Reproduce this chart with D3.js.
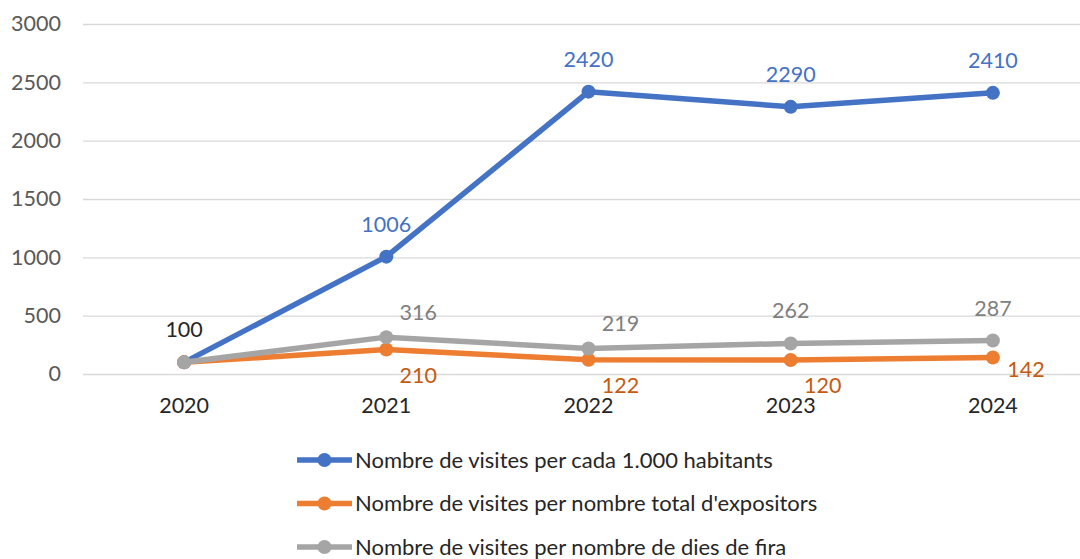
<!DOCTYPE html>
<html>
<head>
<meta charset="utf-8">
<script src="https://cdn.jsdelivr.net/npm/d3@7"></script>
<style>
  body { margin: 0; background: #fff; }
  svg text { font-family: Lato, "Open Sans", sans-serif; }
</style>
</head>
<body>
<div id="chart"></div>
<script>
// Data
const years = ["2020", "2021", "2022", "2023", "2024"];
const perHabitants = [100, 1006, 2420, 2290, 2410];
const perExpositors = [100, 210, 122, 120, 142];
const perFairDays = [100, 316, 219, 262, 287];
const yTicks = [0, 500, 1000, 1500, 2000, 2500, 3000];

// Where Excel put each data label
const labelPosHabitants = ["none", "above", "above", "above", "above"];
const labelPosExpositors = ["none", "belowRight", "belowRight", "belowRight", "right"];
const labelPosFairDays = ["none", "aboveRight", "aboveRight", "above", "above"];

const series = [
    { name: "Nombre de visites per cada 1.000 habitants", values: perHabitants, pos: labelPosHabitants, color: "#4472C4", labelColor: "#4472C4" },
    { name: "Nombre de visites per nombre total d'expositors", values: perExpositors, pos: labelPosExpositors, color: "#ED7D31", labelColor: "#C55A11" },
    { name: "Nombre de visites per nombre de dies de fira", values: perFairDays, pos: labelPosFairDays, color: "#A5A5A5", labelColor: "#7F7F7F" }
];

const width = 1080, height = 559;
const fontSize = "21.5px";

const svg = d3.select("#chart")
    .append("svg")
    .attr("width", width)
    .attr("height", height);

const x = d3.scaleBand()
    .domain(years)
    .range([83, 1094]);

const y = d3.scaleLinear()
    .domain([0, 3000])
    .range([374, 24]);

const cx = d => x(d) + x.bandwidth() / 2;

// Gridlines + y labels
const yAxis = svg.append("g")
    .attr("transform", "translate(83,0)")
    .call(d3.axisLeft(y).tickValues(yTicks).tickSize(-(width - 83)).tickPadding(22).tickFormat(d3.format("d")));
yAxis.select(".domain").remove();
yAxis.selectAll(".tick line").attr("stroke", "#D9D9D9").attr("stroke-width", 1.3);
yAxis.selectAll(".tick text")
    .attr("fill", "#595959")
    .style("font-size", fontSize);

// x labels
const xAxis = svg.append("g")
    .attr("transform", "translate(0,374)")
    .call(d3.axisBottom(x).tickSize(0).tickPadding(24));
xAxis.select(".domain").remove();
xAxis.selectAll(".tick text")
    .attr("fill", "#262626")
    .style("font-size", fontSize);

const line = d3.line()
    .x((d, i) => cx(years[i]))
    .y(d => y(d));

// blue first, then orange, then grey on top
series.forEach(s => {
    svg.append("path")
        .datum(s.values)
        .attr("fill", "none")
        .attr("stroke", s.color)
        .attr("stroke-width", 5.5)
        .attr("stroke-linejoin", "round")
        .attr("d", line);
    svg.selectAll(null)
        .data(s.values)
        .enter()
        .append("circle")
        .attr("cx", (d, i) => cx(years[i]))
        .attr("cy", d => y(d))
        .attr("r", 7)
        .attr("fill", s.color);
});

// Data labels
const offsets = {
    above: [0, -25],
    aboveRight: [32, -17],
    belowRight: [32, 33],
    right: [33, 20]
};
series.forEach(s => {
    svg.selectAll(null)
        .data(s.values.map((v, i) => ({ v, i })).filter(d => s.pos[d.i] !== "none"))
        .enter()
        .append("text")
        .attr("x", d => cx(years[d.i]) + offsets[s.pos[d.i]][0])
        .attr("y", d => y(d.v) + offsets[s.pos[d.i]][1])
        .attr("text-anchor", "middle")
        .attr("fill", s.labelColor)
        .style("font-size", fontSize)
        .text(d => d.v);
});

// Shared 2020 label
svg.append("text")
    .attr("x", cx(years[0]))
    .attr("y", y(perHabitants[0]) - 25)
    .attr("text-anchor", "middle")
    .attr("fill", "#262626")
    .style("font-size", fontSize)
    .text(perHabitants[0]);

// Legend
const legend = svg.append("g").attr("transform", "translate(297,460)");
series.forEach((s, i) => {
    const g = legend.append("g").attr("transform", `translate(0,${i * 43.5})`);
    g.append("line")
        .attr("x1", 0).attr("x2", 55)
        .attr("stroke", s.color)
        .attr("stroke-width", 5.5);
    g.append("circle")
        .attr("cx", 27.5)
        .attr("r", 7)
        .attr("fill", s.color);
    g.append("text")
        .attr("x", 58)
        .attr("dy", "0.35em")
        .attr("fill", "#262626")
        .style("font-size", "22px")
        .text(s.name);
});
</script>
</body>
</html>
